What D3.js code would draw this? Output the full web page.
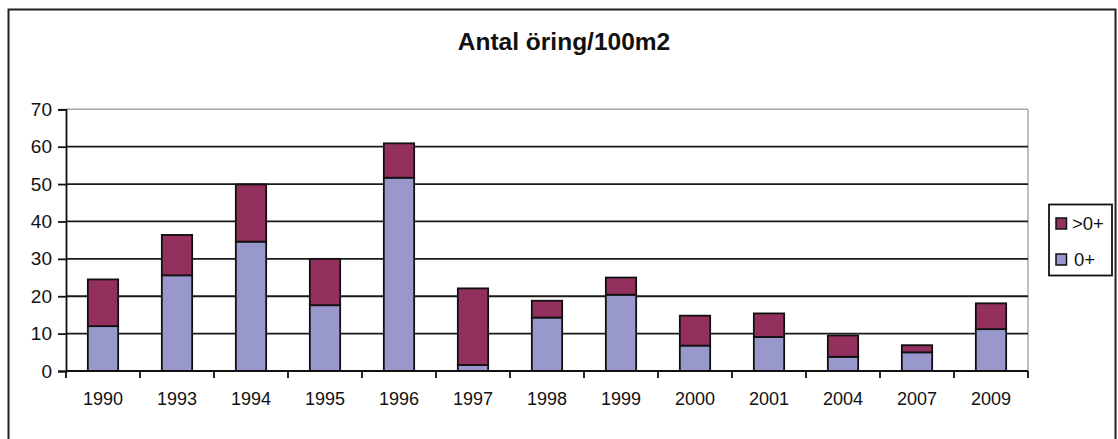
<!DOCTYPE html>
<html>
<head>
<meta charset="utf-8">
<script src="https://cdn.jsdelivr.net/npm/d3@7/dist/d3.min.js"></script>
<style>
  html, body { margin: 0; padding: 0; background: #fff; }
  svg { display: block; font-family: "Liberation Sans", Arial, sans-serif; }
</style>
</head>
<body>
<svg id="chart" width="1118" height="439"></svg>
<script>
const years = ["1990","1993","1994","1995","1996","1997","1998","1999","2000","2001","2004","2007","2009"];
const young = [12, 25.6, 34.6, 17.6, 51.7, 1.6, 14.3, 20.4, 6.8, 9.1, 3.8, 5.0, 11.2];      // 0+
const older = [12.5, 10.8, 15.3, 12.4, 9.2, 20.5, 4.5, 4.6, 8.0, 6.3, 5.7, 1.9, 6.9];      // >0+
const yTicks = [0, 10, 20, 30, 40, 50, 60, 70];
const seriesNames = ["0+", ">0+"];
const colors = { "0+": "#9898CC", ">0+": "#94305E" };
const title = "Antal öring/100m2";

const svg = d3.select("#chart");
const m = { left: 66, right: 1028, top: 109.3, bottom: 371 };

// outer frame
svg.append("rect").attr("x", 8.5).attr("y", 9.5).attr("width", 1107).attr("height", 460)
  .attr("fill", "none").attr("stroke", "#222").attr("stroke-width", 2);

// title
svg.append("text").attr("x", 564).attr("y", 50).attr("text-anchor", "middle")
  .attr("font-weight", "bold").attr("font-size", 24.5).attr("fill", "#111").text(title);

const x = d3.scaleBand().domain(years).range([m.left, m.right]).paddingInner(0.59).paddingOuter(0.295);
const xb = d3.scaleBand().domain(years).range([m.left, m.right]).padding(0);
const y = d3.scaleLinear().domain([0, 70]).range([m.bottom, m.top]);

// plot area border (gray)
svg.append("line").attr("x1", m.left).attr("x2", m.right).attr("y1", y(70)).attr("y2", y(70))
  .attr("stroke", "#a8a8a8").attr("stroke-width", 1.5);
svg.append("line").attr("x1", m.right).attr("x2", m.right).attr("y1", y(70)).attr("y2", y(0))
  .attr("stroke", "#a8a8a8").attr("stroke-width", 1.5);

// gridlines
svg.append("g").selectAll("line").data(yTicks.filter(t => t > 0 && t < 70)).join("line")
  .attr("x1", m.left).attr("x2", m.right).attr("y1", d => y(d)).attr("y2", d => y(d))
  .attr("stroke", "#1a1a1a").attr("stroke-width", 1.8);

// stacked bars
const rows = years.map((yr, i) => ({ year: yr, "0+": young[i], ">0+": older[i] }));
const stack = d3.stack().keys(seriesNames)(rows);
svg.append("g").selectAll("g").data(stack).join("g")
  .attr("fill", d => colors[d.key])
  .selectAll("rect").data(d => d).join("rect")
  .attr("x", d => x(d.data.year)).attr("width", x.bandwidth())
  .attr("y", d => y(d[1])).attr("height", d => y(d[0]) - y(d[1]))
  .attr("stroke", "#111").attr("stroke-width", 1.8);

// y axis
const yAxis = d3.axisLeft(y).tickValues(yTicks).tickSize(8).tickPadding(6);
const gy = svg.append("g").attr("transform", `translate(${m.left},0)`).call(yAxis);
gy.select(".domain").attr("stroke", "#111").attr("stroke-width", 1.8);
gy.selectAll(".tick line").attr("stroke", "#111").attr("stroke-width", 1.8);
gy.selectAll(".tick text").attr("font-size", 19).attr("fill", "#111")
  .attr("font-family", "'Liberation Sans', Arial, sans-serif");

// x axis: ticks at band boundaries
const boundaries = years.map(yr => xb(yr)).concat([m.right]);
svg.append("line").attr("x1", m.left).attr("x2", m.right).attr("y1", y(0)).attr("y2", y(0))
  .attr("stroke", "#111").attr("stroke-width", 1.8);
svg.append("g").selectAll("line").data(boundaries).join("line")
  .attr("x1", d => d).attr("x2", d => d).attr("y1", y(0)).attr("y2", y(0) + 7)
  .attr("stroke", "#111").attr("stroke-width", 1.8);
svg.append("g").selectAll("text").data(years).join("text")
  .attr("x", d => xb(d) + xb.bandwidth() / 2).attr("y", 405)
  .attr("text-anchor", "middle").attr("font-size", 18).attr("fill", "#111").text(d => d);

// legend
svg.append("rect").attr("x", 1049).attr("y", 204.5).attr("width", 63).attr("height", 71)
  .attr("fill", "#fff").attr("stroke", "#111").attr("stroke-width", 1.8);
const legendItems = [">0+", "0+"];
const lg = svg.append("g").selectAll("g").data(legendItems).join("g")
  .attr("transform", (d, i) => `translate(1056,${218 + i * 36})`);
lg.append("rect").attr("width", 10.5).attr("height", 11).attr("fill", d => colors[d])
  .attr("stroke", "#111").attr("stroke-width", 1.5);
lg.append("text").attr("x", (d, i) => i === 0 ? 16 : 18).attr("y", 12)
  .attr("font-size", 18.5).attr("fill", "#111").text(d => d);
</script>
</body>
</html>
